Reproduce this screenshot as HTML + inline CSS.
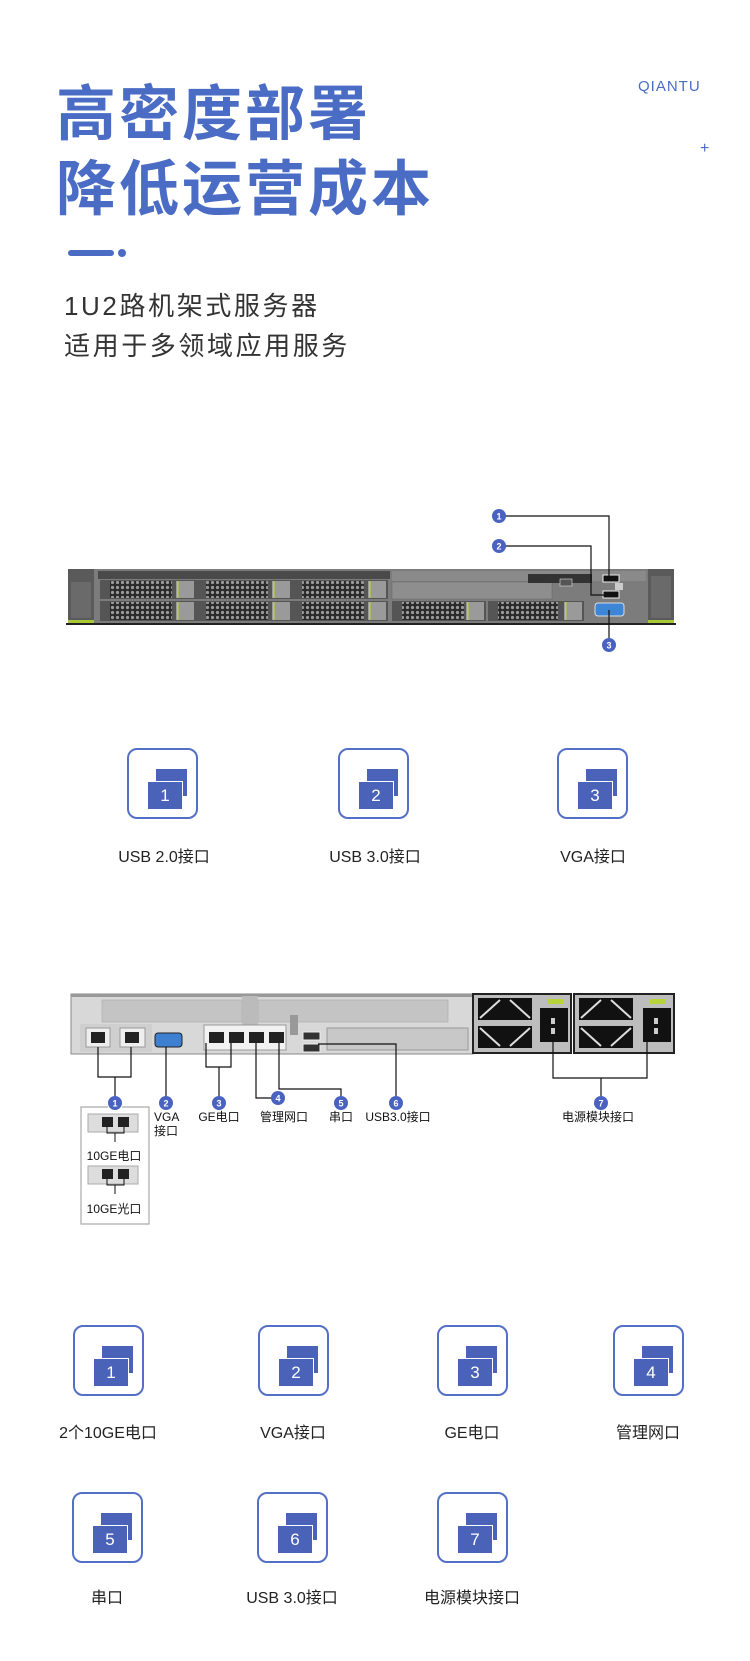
<!DOCTYPE html>
<html><head><meta charset="utf-8"><style>
body{margin:0;width:750px;height:1661px;background:#fff;position:relative;overflow:hidden;font-family:"Liberation Sans","Noto Sans CJK SC",sans-serif;}
.t{position:absolute;white-space:nowrap;}
.h{color:#4a6cc4;font-size:60px;font-weight:bold;left:56px;letter-spacing:3px;}
.sub{color:#333;font-size:26px;left:64px;letter-spacing:2.6px;}
.ic{position:absolute;width:71px;height:71px;border:2px solid #5470c6;border-radius:10px;box-sizing:border-box;}
.ic .b{position:absolute;left:27px;top:19px;width:31px;height:27px;background:#4a63b8;}
.ic .f{position:absolute;left:18px;top:31px;width:34px;height:27px;background:#4a63b8;border:1.5px solid #fff;color:#fff;font-size:17px;text-align:center;line-height:27px;}
.lb{position:absolute;font-size:16px;color:#222;text-align:center;width:160px;}
svg{position:absolute;left:0;top:0;}
</style></head><body>
<div class="t h" style="top:66px">高密度部署</div>
<div class="t h" style="top:141px">降低运营成本</div>
<div class="t" style="left:638px;top:78px;color:#4a6cc4;font-size:15px;letter-spacing:1px">QIANTU</div>
<div class="t" style="left:700px;top:140px;color:#4a6cc4;font-size:16px">+</div>
<div class="t" style="left:68px;top:250px;width:46px;height:6px;border-radius:3px;background:#4a6cc4"></div>
<div class="t" style="left:118px;top:249px;width:8px;height:8px;border-radius:4px;background:#4a6cc4"></div>
<div class="t sub" style="top:286px">1U2路机架式服务器</div>
<div class="t sub" style="top:326px">适用于多领域应用服务</div>

<svg width="750" height="1661" viewBox="0 0 750 1661">
<defs>
<pattern id="hc" width="5" height="5" patternUnits="userSpaceOnUse"><rect width="5" height="5" fill="#2a2a2a"/><circle cx="2.5" cy="2.5" r="1.6" fill="#9a9a9a"/></pattern>
</defs>
<rect x="68" y="569" width="606" height="56" fill="#7c7c7c"/>
<rect x="68" y="569" width="26" height="56" fill="#5a5a5a"/>
<rect x="71" y="582" width="20" height="36" fill="#6a6a6a"/>
<rect x="68" y="620" width="26" height="3" fill="#a8c83a"/>
<rect x="648" y="569" width="26" height="56" fill="#5a5a5a"/>
<rect x="651" y="576" width="20" height="42" fill="#6a6a6a"/>
<rect x="648" y="620" width="26" height="3" fill="#a8c83a"/>
<rect x="98" y="571" width="292" height="8" fill="#4a4a4a"/>
<g>
<rect x="100" y="580" width="96" height="19" fill="#555"/><rect x="110" y="581" width="62" height="17" fill="url(#hc)"/><rect x="176" y="581" width="18" height="17" fill="#9a9a9a"/><rect x="177" y="581" width="1.5" height="17" fill="#b8d43a"/>
<rect x="196" y="580" width="96" height="19" fill="#555"/><rect x="206" y="581" width="62" height="17" fill="url(#hc)"/><rect x="272" y="581" width="18" height="17" fill="#9a9a9a"/><rect x="273" y="581" width="1.5" height="17" fill="#b8d43a"/>
<rect x="292" y="580" width="96" height="19" fill="#555"/><rect x="302" y="581" width="62" height="17" fill="url(#hc)"/><rect x="368" y="581" width="18" height="17" fill="#9a9a9a"/><rect x="369" y="581" width="1.5" height="17" fill="#b8d43a"/>
<rect x="100" y="601" width="96" height="20" fill="#555"/><rect x="110" y="602" width="62" height="18" fill="url(#hc)"/><rect x="176" y="602" width="18" height="18" fill="#9a9a9a"/><rect x="177" y="602" width="1.5" height="18" fill="#b8d43a"/>
<rect x="196" y="601" width="96" height="20" fill="#555"/><rect x="206" y="602" width="62" height="18" fill="url(#hc)"/><rect x="272" y="602" width="18" height="18" fill="#9a9a9a"/><rect x="273" y="602" width="1.5" height="18" fill="#b8d43a"/>
<rect x="292" y="601" width="96" height="20" fill="#555"/><rect x="302" y="602" width="62" height="18" fill="url(#hc)"/><rect x="368" y="602" width="18" height="18" fill="#9a9a9a"/><rect x="369" y="602" width="1.5" height="18" fill="#b8d43a"/>
<rect x="392" y="601" width="94" height="20" fill="#555"/><rect x="402" y="602" width="62" height="18" fill="url(#hc)"/><rect x="466" y="602" width="18" height="18" fill="#9a9a9a"/><rect x="467" y="602" width="1.5" height="18" fill="#b8d43a"/>
<rect x="488" y="601" width="96" height="20" fill="#555"/><rect x="498" y="602" width="60" height="18" fill="url(#hc)"/><rect x="564" y="602" width="18" height="18" fill="#9a9a9a"/><rect x="565" y="602" width="1.5" height="18" fill="#b8d43a"/>
</g>
<rect x="392" y="571" width="254" height="10" fill="#8a8a8a"/>
<rect x="392" y="582" width="160" height="17" fill="#8e8e8e" stroke="#666" stroke-width="0.5"/>
<rect x="528" y="574" width="64" height="9" fill="#333"/>
<rect x="560" y="579" width="12" height="7" fill="#555" stroke="#ddd" stroke-width="0.6"/>
<rect x="615" y="583" width="8" height="7" fill="#ccc"/>
<rect x="66" y="623" width="610" height="2" fill="#222"/>
<rect x="603" y="575" width="16" height="7" fill="#111" stroke="#eee" stroke-width="1"/>
<rect x="603" y="591" width="16" height="7" fill="#111" stroke="#eee" stroke-width="1"/>
<rect x="595" y="603" width="29" height="13" rx="3" fill="#3d86d6" stroke="#ddd" stroke-width="1"/>
<g stroke="#111" stroke-width="1.2" fill="none">
<polyline points="504,516 609,516 609,578"/>
<polyline points="504,546 591,546 591,595 604,595"/>
<line x1="609" y1="610" x2="609" y2="640"/>
</g>
<g fill="#4a63c0"><circle cx="499" cy="516" r="7"/><circle cx="499" cy="546" r="7"/><circle cx="609" cy="645" r="7"/></g>
<g fill="#fff" font-size="9" font-weight="bold" text-anchor="middle" font-family="Liberation Sans"><text x="499" y="519.5">1</text><text x="499" y="549.5">2</text><text x="609" y="648.5">3</text></g>

<rect x="71" y="994" width="402" height="60" fill="#d8d8d8" stroke="#888" stroke-width="1"/>
<rect x="71" y="994" width="402" height="3" fill="#999"/>
<rect x="102" y="1000" width="140" height="22" fill="#c4c4c4" stroke="#aaa" stroke-width="0.6"/>
<rect x="258" y="1000" width="190" height="22" fill="#c4c4c4" stroke="#aaa" stroke-width="0.6"/>
<rect x="242" y="996" width="16" height="32" fill="#bbb"/>
<rect x="80" y="1024" width="72" height="28" fill="#cfcfcf"/>
<rect x="86" y="1028" width="24" height="19" fill="#eee" stroke="#999"/><rect x="91" y="1032" width="14" height="11" fill="#222"/>
<rect x="120" y="1028" width="25" height="19" fill="#eee" stroke="#999"/><rect x="125" y="1032" width="14" height="11" fill="#222"/>
<rect x="155" y="1033" width="27" height="14" rx="3" fill="#3d7fd0" stroke="#222"/>
<rect x="204" y="1025" width="82" height="25" fill="#f2f2f2" stroke="#999"/>
<g fill="#222"><rect x="209" y="1032" width="15" height="11"/><rect x="229" y="1032" width="15" height="11"/><rect x="249" y="1032" width="15" height="11"/><rect x="269" y="1032" width="15" height="11"/></g>
<rect x="290" y="1015" width="8" height="20" fill="#999"/>
<rect x="303" y="1032" width="17" height="8" fill="#333" stroke="#eee"/><rect x="303" y="1044" width="17" height="8" fill="#333" stroke="#eee"/>
<rect x="327" y="1028" width="141" height="22" fill="#c8c8c8" stroke="#999"/>
<rect x="472" y="993" width="100" height="61" fill="#222"/><rect x="474" y="995" width="96" height="57" fill="#bdbdbd"/>
<rect x="573" y="993" width="102" height="61" fill="#222"/><rect x="575" y="995" width="98" height="57" fill="#bdbdbd"/>
<g fill="#111">
<rect x="478" y="998" width="54" height="22"/><rect x="478" y="1026" width="54" height="22"/>
<rect x="579" y="998" width="54" height="22"/><rect x="579" y="1026" width="54" height="22"/>
<rect x="540" y="1008" width="28" height="34"/><rect x="643" y="1008" width="28" height="34"/>
</g>
<g stroke="#ddd" stroke-width="2"><line x1="480" y1="1018" x2="500" y2="1000"/><line x1="510" y1="1000" x2="530" y2="1018"/><line x1="480" y1="1028" x2="500" y2="1046"/><line x1="510" y1="1046" x2="530" y2="1028"/>
<line x1="581" y1="1018" x2="601" y2="1000"/><line x1="611" y1="1000" x2="631" y2="1018"/><line x1="581" y1="1028" x2="601" y2="1046"/><line x1="611" y1="1046" x2="631" y2="1028"/></g>
<g fill="#ccc"><rect x="551" y="1018" width="4" height="6"/><rect x="551" y="1028" width="4" height="6"/><rect x="654" y="1018" width="4" height="6"/><rect x="654" y="1028" width="4" height="6"/></g>
<rect x="547" y="999" width="16" height="5" fill="#b8d43a"/><rect x="650" y="999" width="16" height="5" fill="#b8d43a"/>
<g stroke="#111" stroke-width="1.2" fill="none">
<polyline points="98,1047 98,1077 131,1077 131,1047"/><line x1="115" y1="1077" x2="115" y2="1100"/>
<line x1="166" y1="1047" x2="166" y2="1100"/>
<polyline points="206,1043 206,1067 231,1067 231,1043"/><line x1="219" y1="1067" x2="219" y2="1100"/>
<polyline points="256,1043 256,1098 272,1098"/>
<polyline points="279,1043 279,1089 341,1089 341,1096"/>
<polyline points="318,1044 396,1044 396,1096"/>
<polyline points="553,1042 553,1078 647,1078 647,1042"/><line x1="601" y1="1078" x2="601" y2="1096"/>
</g>
<g fill="#4a63c0"><circle cx="115" cy="1103" r="7"/><circle cx="166" cy="1103" r="7"/><circle cx="219" cy="1103" r="7"/><circle cx="278" cy="1098" r="7"/><circle cx="341" cy="1103" r="7"/><circle cx="396" cy="1103" r="7"/><circle cx="601" cy="1103" r="7"/></g>
<g fill="#fff" font-size="9" font-weight="bold" text-anchor="middle" font-family="Liberation Sans"><text x="115" y="1106.5">1</text><text x="166" y="1106.5">2</text><text x="219" y="1106.5">3</text><text x="278" y="1101.5">4</text><text x="341" y="1106.5">5</text><text x="396" y="1106.5">6</text><text x="601" y="1106.5">7</text></g>
<g font-size="12" fill="#111" font-family="Liberation Sans,Noto Sans CJK SC,sans-serif">
<text x="154" y="1121">VGA</text><text x="154" y="1135">接口</text>
<text x="219" y="1121" text-anchor="middle">GE电口</text>
<text x="284" y="1121" text-anchor="middle">管理网口</text>
<text x="341" y="1121" text-anchor="middle">串口</text>
<text x="398" y="1121" text-anchor="middle">USB3.0接口</text>
<text x="598" y="1121" text-anchor="middle">电源模块接口</text>
<text x="114" y="1160" text-anchor="middle">10GE电口</text>
<text x="114" y="1213" text-anchor="middle">10GE光口</text>
</g>
<path d="M108,1107 H81 V1224 H149 V1107 H122" fill="none" stroke="#aaa" stroke-width="1.2"/>
<rect x="88" y="1114" width="50" height="18" fill="#ddd" stroke="#aaa"/><rect x="102" y="1117" width="11" height="10" fill="#222"/><rect x="118" y="1117" width="11" height="10" fill="#222"/>
<path d="M107,1127 V1133 H124 V1127 M115,1133 V1142" fill="none" stroke="#111"/>
<rect x="88" y="1166" width="50" height="18" fill="#ddd" stroke="#aaa"/><rect x="102" y="1169" width="11" height="10" fill="#222"/><rect x="118" y="1169" width="11" height="10" fill="#222"/>
<path d="M107,1179 V1185 H124 V1179 M115,1185 V1194" fill="none" stroke="#111"/>
</svg>

<div class="ic" style="left:127px;top:748px"><div class="b"></div><div class="f">1</div></div>
<div class="ic" style="left:338px;top:748px"><div class="b"></div><div class="f">2</div></div>
<div class="ic" style="left:557px;top:748px"><div class="b"></div><div class="f">3</div></div>
<div class="lb" style="left:84px;top:843px">USB 2.0接口</div>
<div class="lb" style="left:295px;top:843px">USB 3.0接口</div>
<div class="lb" style="left:513px;top:843px">VGA接口</div>

<div class="ic" style="left:73px;top:1325px"><div class="b"></div><div class="f">1</div></div>
<div class="ic" style="left:258px;top:1325px"><div class="b"></div><div class="f">2</div></div>
<div class="ic" style="left:437px;top:1325px"><div class="b"></div><div class="f">3</div></div>
<div class="ic" style="left:613px;top:1325px"><div class="b"></div><div class="f">4</div></div>
<div class="lb" style="left:28px;top:1419px">2个10GE电口</div>
<div class="lb" style="left:213px;top:1419px">VGA接口</div>
<div class="lb" style="left:392px;top:1419px">GE电口</div>
<div class="lb" style="left:568px;top:1419px">管理网口</div>

<div class="ic" style="left:72px;top:1492px"><div class="b"></div><div class="f">5</div></div>
<div class="ic" style="left:257px;top:1492px"><div class="b"></div><div class="f">6</div></div>
<div class="ic" style="left:437px;top:1492px"><div class="b"></div><div class="f">7</div></div>
<div class="lb" style="left:27px;top:1584px">串口</div>
<div class="lb" style="left:212px;top:1584px">USB 3.0接口</div>
<div class="lb" style="left:392px;top:1584px">电源模块接口</div>
</body></html>
